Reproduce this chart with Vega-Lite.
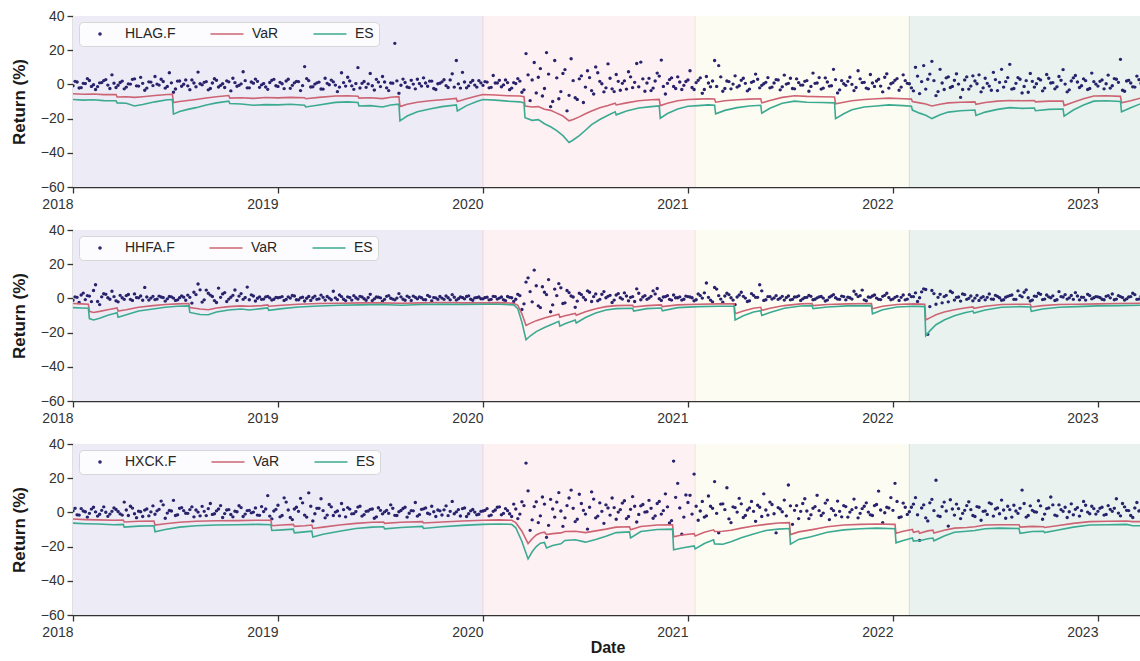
{
"$schema": "https://vega.github.io/schema/vega-lite/v6.json",
"padding": {"left": 10, "top": 9, "right": 0, "bottom": 0},
"background": "white",
"spacing": 12,
"resolve": {"scale": {"color": "independent", "shape": "independent"}},
"datasets": {
"bg": [{"s": 2018, "e": 2020, "k": "A"}, {"s": 2020, "e": 2021.035, "k": "B"}, {"s": 2021.035, "e": 2022.08, "k": "C"}, {"s": 2022.08, "e": 2023.215, "k": "D"}],
"edges": [{"x": 2020, "k": "B"}, {"x": 2021.035, "k": "C"}, {"x": 2022.08, "k": "D"}],
"l1": [
{"t":2018.00,"v":-5.5,"e":-8.8},{"t":2018.05,"v":-5.8,"e":-9.2},{"t":2018.10,"v":-5.6,"e":-9.0},{"t":2018.15,"v":-6.0,"e":-9.5},{"t":2018.21,"v":-5.9,"e":-9.6},{"t":2018.215,"v":-7.4,"e":-10.8},{"t":2018.26,"v":-7.2,"e":-11.0},{"t":2018.30,"v":-7.6,"e":-12.6},{"t":2018.34,"v":-7.2,"e":-11.8},{"t":2018.40,"v":-6.5,"e":-10.2},{"t":2018.46,"v":-5.9,"e":-9.0},{"t":2018.485,"v":-5.8,"e":-8.9},{"t":2018.49,"v":-10.6,"e":-17.4},{"t":2018.52,"v":-10.0,"e":-15.8},{"t":2018.56,"v":-9.4,"e":-14.6},{"t":2018.60,"v":-8.8,"e":-13.6},{"t":2018.65,"v":-8.0,"e":-12.0},{"t":2018.70,"v":-7.2,"e":-10.8},{"t":2018.76,"v":-6.5,"e":-9.8},{"t":2018.765,"v":-8.0,"e":-11.2},{"t":2018.82,"v":-7.8,"e":-11.5},{"t":2018.88,"v":-8.2,"e":-12.2},{"t":2018.94,"v":-7.7,"e":-11.8},{"t":2019.00,"v":-7.9,"e":-12.0},{"t":2019.06,"v":-7.6,"e":-11.6},{"t":2019.13,"v":-7.8,"e":-12.2},{"t":2019.135,"v":-8.4,"e":-13.2},{"t":2019.20,"v":-7.6,"e":-12.0},{"t":2019.28,"v":-6.8,"e":-10.5},{"t":2019.34,"v":-6.6,"e":-10.2},{"t":2019.39,"v":-6.9,"e":-10.6},{"t":2019.395,"v":-8.0,"e":-12.6},{"t":2019.45,"v":-7.8,"e":-12.4},{"t":2019.51,"v":-8.3,"e":-13.2},{"t":2019.55,"v":-7.5,"e":-12.0},{"t":2019.59,"v":-7.2,"e":-11.6},{"t":2019.595,"v":-13.0,"e":-21.3},{"t":2019.63,"v":-11.6,"e":-18.5},{"t":2019.68,"v":-10.4,"e":-16.0},{"t":2019.74,"v":-9.6,"e":-14.4},{"t":2019.80,"v":-9.0,"e":-13.0},{"t":2019.87,"v":-8.2,"e":-12.0},{"t":2019.875,"v":-10.0,"e":-15.5},{"t":2019.92,"v":-8.4,"e":-12.4},{"t":2019.97,"v":-6.8,"e":-10.0},{"t":2020.00,"v":-5.9,"e":-8.8},{"t":2020.06,"v":-6.2,"e":-9.2},{"t":2020.12,"v":-6.6,"e":-9.8},{"t":2020.18,"v":-6.8,"e":-10.2},{"t":2020.20,"v":-7.2,"e":-10.8},{"t":2020.205,"v":-12.6,"e":-19.5},{"t":2020.24,"v":-13.2,"e":-21.0},{"t":2020.27,"v":-13.0,"e":-20.6},{"t":2020.30,"v":-14.5,"e":-23.0},{"t":2020.33,"v":-15.2,"e":-24.8},{"t":2020.36,"v":-16.8,"e":-27.0},{"t":2020.39,"v":-18.5,"e":-30.0},{"t":2020.42,"v":-21.3,"e":-34.0},{"t":2020.44,"v":-20.5,"e":-32.5},{"t":2020.47,"v":-19.0,"e":-30.0},{"t":2020.50,"v":-17.2,"e":-26.8},{"t":2020.53,"v":-15.5,"e":-23.5},{"t":2020.57,"v":-13.6,"e":-20.5},{"t":2020.61,"v":-12.4,"e":-18.0},{"t":2020.645,"v":-11.0,"e":-16.0},{"t":2020.65,"v":-12.0,"e":-17.8},{"t":2020.70,"v":-10.8,"e":-15.5},{"t":2020.76,"v":-9.6,"e":-13.8},{"t":2020.82,"v":-9.0,"e":-13.0},{"t":2020.86,"v":-8.8,"e":-12.6},{"t":2020.865,"v":-12.4,"e":-19.8},{"t":2020.90,"v":-11.0,"e":-17.0},{"t":2020.95,"v":-9.6,"e":-14.4},{"t":2021.00,"v":-8.8,"e":-12.8},{"t":2021.05,"v":-8.6,"e":-12.4},{"t":2021.10,"v":-8.4,"e":-12.0},{"t":2021.13,"v":-8.5,"e":-12.2},{"t":2021.135,"v":-10.4,"e":-17.2},{"t":2021.18,"v":-9.6,"e":-15.2},{"t":2021.24,"v":-9.0,"e":-13.6},{"t":2021.30,"v":-8.6,"e":-12.6},{"t":2021.355,"v":-8.4,"e":-12.2},{"t":2021.36,"v":-10.8,"e":-16.8},{"t":2021.40,"v":-9.4,"e":-14.0},{"t":2021.46,"v":-7.6,"e":-11.0},{"t":2021.52,"v":-6.6,"e":-9.8},{"t":2021.58,"v":-7.0,"e":-10.4},{"t":2021.65,"v":-7.2,"e":-10.6},{"t":2021.715,"v":-7.4,"e":-10.8},{"t":2021.72,"v":-11.4,"e":-20.0},{"t":2021.76,"v":-10.4,"e":-17.2},{"t":2021.80,"v":-9.6,"e":-14.8},{"t":2021.86,"v":-8.8,"e":-13.2},{"t":2021.92,"v":-8.4,"e":-12.6},{"t":2021.98,"v":-8.0,"e":-12.0},{"t":2022.05,"v":-8.4,"e":-12.4},{"t":2022.09,"v":-8.6,"e":-12.8},{"t":2022.095,"v":-10.0,"e":-15.0},{"t":2022.13,"v":-10.8,"e":-16.8},{"t":2022.16,"v":-11.5,"e":-18.0},{"t":2022.19,"v":-12.6,"e":-20.0},{"t":2022.23,"v":-11.6,"e":-17.8},{"t":2022.27,"v":-10.8,"e":-16.2},{"t":2022.33,"v":-10.4,"e":-15.4},{"t":2022.40,"v":-10.2,"e":-15.0},{"t":2022.405,"v":-11.6,"e":-18.2},{"t":2022.45,"v":-10.6,"e":-16.2},{"t":2022.51,"v":-9.8,"e":-14.6},{"t":2022.57,"v":-9.4,"e":-13.6},{"t":2022.63,"v":-9.6,"e":-14.0},{"t":2022.69,"v":-9.4,"e":-13.8},{"t":2022.695,"v":-10.2,"e":-15.4},{"t":2022.76,"v":-9.8,"e":-14.6},{"t":2022.83,"v":-9.8,"e":-14.4},{"t":2022.835,"v":-12.4,"e":-18.6},{"t":2022.88,"v":-10.4,"e":-15.0},{"t":2022.93,"v":-8.4,"e":-12.0},{"t":2022.98,"v":-6.8,"e":-9.8},{"t":2023.04,"v":-6.6,"e":-9.6},{"t":2023.11,"v":-7.0,"e":-10.0},{"t":2023.115,"v":-10.8,"e":-16.0},{"t":2023.16,"v":-9.6,"e":-13.6},{"t":2023.215,"v":-7.8,"e":-11.0}
],
"l2": [
{"t":2018.00,"v":-3.0,"e":-5.4},{"t":2018.04,"v":-3.2,"e":-5.6},{"t":2018.075,"v":-3.4,"e":-5.8},{"t":2018.08,"v":-7.6,"e":-11.8},{"t":2018.10,"v":-8.2,"e":-12.6},{"t":2018.13,"v":-7.6,"e":-11.6},{"t":2018.17,"v":-6.6,"e":-9.8},{"t":2018.215,"v":-5.6,"e":-8.4},{"t":2018.22,"v":-7.4,"e":-11.0},{"t":2018.26,"v":-6.6,"e":-9.6},{"t":2018.32,"v":-5.2,"e":-7.4},{"t":2018.39,"v":-4.2,"e":-6.2},{"t":2018.45,"v":-3.6,"e":-5.2},{"t":2018.51,"v":-3.2,"e":-4.6},{"t":2018.565,"v":-3.0,"e":-4.4},{"t":2018.57,"v":-5.4,"e":-8.2},{"t":2018.62,"v":-6.2,"e":-9.4},{"t":2018.66,"v":-6.6,"e":-9.6},{"t":2018.70,"v":-5.6,"e":-8.0},{"t":2018.76,"v":-4.8,"e":-6.8},{"t":2018.82,"v":-4.4,"e":-6.2},{"t":2018.86,"v":-4.6,"e":-6.8},{"t":2018.92,"v":-4.2,"e":-6.0},{"t":2018.95,"v":-3.8,"e":-5.6},{"t":2018.955,"v":-4.6,"e":-7.0},{"t":2019.02,"v":-4.0,"e":-6.0},{"t":2019.10,"v":-3.4,"e":-5.0},{"t":2019.20,"v":-3.0,"e":-4.4},{"t":2019.30,"v":-2.8,"e":-4.0},{"t":2019.40,"v":-2.6,"e":-3.8},{"t":2019.50,"v":-2.6,"e":-3.6},{"t":2019.60,"v":-2.8,"e":-4.0},{"t":2019.70,"v":-2.6,"e":-3.6},{"t":2019.80,"v":-2.4,"e":-3.4},{"t":2019.90,"v":-2.6,"e":-3.6},{"t":2020.00,"v":-2.6,"e":-3.4},{"t":2020.08,"v":-2.5,"e":-3.4},{"t":2020.15,"v":-2.8,"e":-3.8},{"t":2020.17,"v":-4.0,"e":-6.0},{"t":2020.19,"v":-9.0,"e":-14.0},{"t":2020.21,"v":-15.8,"e":-24.2},{"t":2020.23,"v":-14.6,"e":-22.0},{"t":2020.26,"v":-13.0,"e":-19.4},{"t":2020.30,"v":-11.4,"e":-17.0},{"t":2020.34,"v":-10.2,"e":-15.0},{"t":2020.37,"v":-9.2,"e":-13.4},{"t":2020.375,"v":-11.0,"e":-16.2},{"t":2020.40,"v":-10.2,"e":-14.8},{"t":2020.45,"v":-8.8,"e":-12.6},{"t":2020.455,"v":-9.8,"e":-14.4},{"t":2020.50,"v":-7.8,"e":-11.2},{"t":2020.55,"v":-6.0,"e":-8.6},{"t":2020.60,"v":-4.8,"e":-6.8},{"t":2020.65,"v":-4.2,"e":-6.0},{"t":2020.73,"v":-4.0,"e":-5.8},{"t":2020.735,"v":-5.0,"e":-7.4},{"t":2020.80,"v":-4.2,"e":-6.0},{"t":2020.87,"v":-3.8,"e":-5.6},{"t":2020.875,"v":-4.8,"e":-7.2},{"t":2020.95,"v":-3.8,"e":-5.4},{"t":2021.05,"v":-3.4,"e":-4.8},{"t":2021.15,"v":-3.2,"e":-4.6},{"t":2021.225,"v":-3.2,"e":-4.6},{"t":2021.23,"v":-9.0,"e":-12.6},{"t":2021.27,"v":-7.4,"e":-10.2},{"t":2021.32,"v":-5.8,"e":-8.0},{"t":2021.355,"v":-5.2,"e":-7.2},{"t":2021.36,"v":-7.0,"e":-10.0},{"t":2021.40,"v":-5.8,"e":-8.2},{"t":2021.47,"v":-4.2,"e":-5.8},{"t":2021.55,"v":-3.2,"e":-4.4},{"t":2021.605,"v":-3.0,"e":-4.2},{"t":2021.61,"v":-4.2,"e":-6.0},{"t":2021.68,"v":-3.6,"e":-5.0},{"t":2021.78,"v":-3.2,"e":-4.4},{"t":2021.895,"v":-3.0,"e":-4.2},{"t":2021.90,"v":-6.0,"e":-9.0},{"t":2021.95,"v":-4.6,"e":-6.6},{"t":2022.02,"v":-3.6,"e":-5.0},{"t":2022.10,"v":-3.2,"e":-4.6},{"t":2022.155,"v":-3.4,"e":-4.8},{"t":2022.16,"v":-12.6,"e":-21.8},{"t":2022.18,"v":-11.4,"e":-19.0},{"t":2022.21,"v":-9.6,"e":-15.4},{"t":2022.25,"v":-8.0,"e":-12.6},{"t":2022.30,"v":-6.6,"e":-10.2},{"t":2022.35,"v":-5.6,"e":-8.4},{"t":2022.39,"v":-5.0,"e":-7.4},{"t":2022.395,"v":-5.8,"e":-8.6},{"t":2022.45,"v":-4.6,"e":-6.8},{"t":2022.53,"v":-3.6,"e":-5.2},{"t":2022.62,"v":-3.4,"e":-4.8},{"t":2022.67,"v":-3.4,"e":-5.0},{"t":2022.675,"v":-5.0,"e":-7.6},{"t":2022.73,"v":-4.2,"e":-6.2},{"t":2022.81,"v":-3.6,"e":-5.2},{"t":2022.90,"v":-3.4,"e":-4.8},{"t":2023.00,"v":-3.2,"e":-4.4},{"t":2023.10,"v":-3.0,"e":-4.2},{"t":2023.215,"v":-2.8,"e":-4.0}
],
"l3": [
{"t":2018.00,"v":-3.9,"e":-6.3},{"t":2018.06,"v":-4.2,"e":-6.6},{"t":2018.12,"v":-4.4,"e":-6.8},{"t":2018.20,"v":-4.6,"e":-7.2},{"t":2018.245,"v":-4.5,"e":-7.0},{"t":2018.25,"v":-5.6,"e":-8.6},{"t":2018.32,"v":-5.2,"e":-8.0},{"t":2018.395,"v":-5.0,"e":-7.8},{"t":2018.40,"v":-7.4,"e":-11.4},{"t":2018.45,"v":-6.6,"e":-10.0},{"t":2018.52,"v":-5.8,"e":-8.6},{"t":2018.60,"v":-5.2,"e":-7.8},{"t":2018.70,"v":-4.9,"e":-7.4},{"t":2018.80,"v":-4.8,"e":-7.2},{"t":2018.90,"v":-4.6,"e":-7.0},{"t":2018.965,"v":-4.6,"e":-7.2},{"t":2018.97,"v":-7.8,"e":-10.6},{"t":2019.02,"v":-7.4,"e":-10.2},{"t":2019.075,"v":-7.0,"e":-9.8},{"t":2019.08,"v":-8.2,"e":-12.0},{"t":2019.13,"v":-7.8,"e":-11.4},{"t":2019.165,"v":-7.4,"e":-11.0},{"t":2019.17,"v":-9.4,"e":-14.4},{"t":2019.22,"v":-8.6,"e":-12.8},{"t":2019.30,"v":-7.4,"e":-11.0},{"t":2019.38,"v":-6.4,"e":-9.4},{"t":2019.46,"v":-5.8,"e":-8.6},{"t":2019.515,"v":-5.6,"e":-8.4},{"t":2019.52,"v":-6.4,"e":-9.6},{"t":2019.60,"v":-5.8,"e":-8.8},{"t":2019.705,"v":-5.4,"e":-8.2},{"t":2019.71,"v":-6.2,"e":-9.4},{"t":2019.80,"v":-5.6,"e":-8.4},{"t":2019.90,"v":-5.0,"e":-7.6},{"t":2020.00,"v":-4.6,"e":-7.0},{"t":2020.08,"v":-4.4,"e":-6.8},{"t":2020.14,"v":-4.6,"e":-7.0},{"t":2020.16,"v":-6.0,"e":-9.0},{"t":2020.19,"v":-11.0,"e":-17.0},{"t":2020.22,"v":-18.2,"e":-27.2},{"t":2020.24,"v":-15.4,"e":-23.0},{"t":2020.26,"v":-13.2,"e":-20.0},{"t":2020.28,"v":-12.0,"e":-18.0},{"t":2020.30,"v":-11.6,"e":-17.6},{"t":2020.31,"v":-13.0,"e":-20.8},{"t":2020.34,"v":-12.4,"e":-19.4},{"t":2020.38,"v":-12.0,"e":-18.4},{"t":2020.40,"v":-11.2,"e":-16.4},{"t":2020.45,"v":-11.0,"e":-16.0},{"t":2020.50,"v":-11.8,"e":-17.4},{"t":2020.55,"v":-10.8,"e":-15.8},{"t":2020.60,"v":-9.8,"e":-14.0},{"t":2020.65,"v":-8.6,"e":-11.8},{"t":2020.715,"v":-8.4,"e":-11.4},{"t":2020.72,"v":-10.2,"e":-15.0},{"t":2020.77,"v":-8.2,"e":-11.2},{"t":2020.85,"v":-7.4,"e":-10.0},{"t":2020.925,"v":-7.2,"e":-9.8},{"t":2020.93,"v":-14.2,"e":-21.9},{"t":2020.97,"v":-13.2,"e":-20.8},{"t":2021.03,"v":-12.4,"e":-19.6},{"t":2021.035,"v":-13.8,"e":-21.3},{"t":2021.08,"v":-11.6,"e":-18.2},{"t":2021.125,"v":-10.2,"e":-16.0},{"t":2021.13,"v":-11.2,"e":-18.4},{"t":2021.17,"v":-11.0,"e":-18.6},{"t":2021.21,"v":-10.4,"e":-17.2},{"t":2021.26,"v":-9.2,"e":-14.8},{"t":2021.32,"v":-8.0,"e":-12.6},{"t":2021.38,"v":-7.0,"e":-10.6},{"t":2021.44,"v":-6.2,"e":-9.8},{"t":2021.495,"v":-6.0,"e":-9.4},{"t":2021.50,"v":-13.0,"e":-18.6},{"t":2021.54,"v":-11.4,"e":-15.8},{"t":2021.60,"v":-10.2,"e":-14.2},{"t":2021.68,"v":-8.4,"e":-11.6},{"t":2021.76,"v":-7.4,"e":-10.2},{"t":2021.84,"v":-7.0,"e":-9.6},{"t":2021.92,"v":-6.8,"e":-9.2},{"t":2022.01,"v":-7.0,"e":-9.6},{"t":2022.015,"v":-12.2,"e":-17.8},{"t":2022.05,"v":-11.0,"e":-16.4},{"t":2022.095,"v":-10.0,"e":-15.0},{"t":2022.10,"v":-11.6,"e":-16.8},{"t":2022.125,"v":-11.0,"e":-16.4},{"t":2022.13,"v":-12.2,"e":-16.6},{"t":2022.17,"v":-10.8,"e":-15.4},{"t":2022.195,"v":-10.4,"e":-15.0},{"t":2022.20,"v":-12.0,"e":-16.6},{"t":2022.25,"v":-10.4,"e":-13.8},{"t":2022.30,"v":-9.2,"e":-11.6},{"t":2022.36,"v":-8.8,"e":-11.0},{"t":2022.40,"v":-8.4,"e":-10.6},{"t":2022.45,"v":-7.4,"e":-9.6},{"t":2022.52,"v":-7.2,"e":-9.2},{"t":2022.615,"v":-7.2,"e":-9.4},{"t":2022.62,"v":-8.6,"e":-12.2},{"t":2022.68,"v":-8.2,"e":-11.2},{"t":2022.735,"v":-8.4,"e":-11.0},{"t":2022.74,"v":-8.8,"e":-11.8},{"t":2022.80,"v":-7.8,"e":-10.4},{"t":2022.88,"v":-6.4,"e":-8.6},{"t":2022.96,"v":-5.4,"e":-7.4},{"t":2023.05,"v":-5.2,"e":-7.2},{"t":2023.14,"v":-5.0,"e":-7.0},{"t":2023.17,"v":-5.4,"e":-7.8},{"t":2023.215,"v":-5.4,"e":-7.8}
],
"pts": [
{"t":2018.01,"a":1.8,"b":0.9,"c":2.4},{"t":2018.03,"a":-2.1,"b":-2.4,"c":-1.6},{"t":2018.05,"a":0.6,"b":3.1,"c":0.8},{"t":2018.07,"a":3.4,"b":1.6,"c":-2.8},{"t":2018.09,"a":-1.2,"b":-1.9,"c":1.9},{"t":2018.11,"a":-3.0,"b":8.0,"c":0.3},{"t":2018.13,"a":0.9,"b":-3.6,"c":-1.1},{"t":2018.15,"a":2.2,"b":2.7,"c":3.2},{"t":2018.17,"a":-0.4,"b":0.4,"c":-2.3},{"t":2018.19,"a":5.6,"b":4.2,"c":0.6},
{"t":2018.21,"a":-1.8,"b":-1.4,"c":1.7},{"t":2018.23,"a":1.1,"b":1.8,"c":-0.9},{"t":2018.25,"a":-2.6,"b":-0.6,"c":6.0},{"t":2018.27,"a":0.3,"b":2.3,"c":-1.8},{"t":2018.29,"a":2.9,"b":-1.2,"c":2.5},{"t":2018.31,"a":-0.9,"b":0.5,"c":-3.1},{"t":2018.33,"a":4.1,"b":1.4,"c":0.4},{"t":2018.35,"a":-3.4,"b":6.4,"c":1.3},{"t":2018.37,"a":1.5,"b":-1.0,"c":-2.0},{"t":2018.39,"a":-0.7,"b":1.2,"c":3.8},
{"t":2018.41,"a":0.2,"b":-0.4,"c":0.9},{"t":2018.43,"a":3.0,"b":0.8,"c":6.6},{"t":2018.45,"a":-2.2,"b":-1.6,"c":-3.4},{"t":2018.47,"a":6.8,"b":1.1,"c":1.1},{"t":2018.49,"a":-4.6,"b":0.2,"c":7.0},{"t":2018.51,"a":1.9,"b":-0.9,"c":-1.4},{"t":2018.53,"a":-1.1,"b":1.5,"c":2.8},{"t":2018.55,"a":2.6,"b":-1.1,"c":-0.5},{"t":2018.57,"a":-3.1,"b":0.6,"c":1.6},{"t":2018.59,"a":0.8,"b":3.6,"c":-2.6},
{"t":2018.61,"a":7.2,"b":8.4,"c":0.2},{"t":2018.63,"a":-0.3,"b":-2.2,"c":3.5},{"t":2018.65,"a":1.6,"b":4.8,"c":-1.9},{"t":2018.67,"a":-2.4,"b":1.9,"c":5.2},{"t":2018.69,"a":3.3,"b":-1.3,"c":-0.8},{"t":2018.71,"a":-1.5,"b":6.0,"c":2.0},{"t":2018.73,"a":0.4,"b":2.6,"c":-3.0},{"t":2018.75,"a":2.1,"b":-1.8,"c":1.4},{"t":2018.77,"a":-3.8,"b":0.7,"c":-1.2},{"t":2018.79,"a":1.0,"b":4.9,"c":0.7},
{"t":2018.81,"a":-0.6,"b":1.3,"c":3.9},{"t":2018.83,"a":7.4,"b":-0.6,"c":-2.4},{"t":2018.85,"a":-2.0,"b":6.6,"c":1.0},{"t":2018.87,"a":1.4,"b":2.1,"c":-0.3},{"t":2018.89,"a":3.1,"b":-1.5,"c":2.6},{"t":2018.91,"a":-1.7,"b":0.9,"c":-1.7},{"t":2018.93,"a":0.5,"b":-0.4,"c":0.5},{"t":2018.95,"a":-2.9,"b":1.2,"c":9.8},{"t":2018.97,"a":2.4,"b":-1.0,"c":-3.8},{"t":2018.99,"a":-0.8,"b":0.6,"c":1.8},
{"t":2019.01,"a":1.2,"b":0.6,"c":-2.6},{"t":2019.03,"a":-2.5,"b":-1.2,"c":8.5},{"t":2019.05,"a":3.0,"b":0.9,"c":1.4},{"t":2019.07,"a":-0.6,"b":1.7,"c":-4.2},{"t":2019.09,"a":1.8,"b":-0.8,"c":3.0},{"t":2019.11,"a":-3.6,"b":0.3,"c":8.2},{"t":2019.13,"a":10.4,"b":-1.5,"c":-1.6},{"t":2019.15,"a":2.2,"b":1.1,"c":11.4},{"t":2019.17,"a":-1.4,"b":0.4,"c":-5.0},{"t":2019.19,"a":0.9,"b":-0.6,"c":2.4},
{"t":2019.21,"a":-2.7,"b":1.9,"c":8.0},{"t":2019.23,"a":3.6,"b":-1.0,"c":-3.2},{"t":2019.25,"a":-0.2,"b":0.2,"c":4.6},{"t":2019.27,"a":1.5,"b":4.2,"c":-1.8},{"t":2019.29,"a":-4.2,"b":-0.7,"c":0.8},{"t":2019.31,"a":6.8,"b":1.0,"c":5.2},{"t":2019.33,"a":-1.0,"b":-1.3,"c":-2.6},{"t":2019.35,"a":2.0,"b":0.5,"c":1.9},{"t":2019.37,"a":-2.9,"b":1.6,"c":-0.7},{"t":2019.39,"a":9.8,"b":-0.4,"c":3.1},
{"t":2019.41,"a":0.6,"b":0.8,"c":-2.2},{"t":2019.43,"a":-1.7,"b":-1.1,"c":0.6},{"t":2019.45,"a":6.4,"b":2.4,"c":1.8},{"t":2019.47,"a":-3.3,"b":-0.3,"c":-3.4},{"t":2019.49,"a":1.3,"b":0.7,"c":2.7},{"t":2019.51,"a":4.6,"b":-1.6,"c":-0.9},{"t":2019.53,"a":-2.0,"b":1.2,"c":1.2},{"t":2019.55,"a":0.8,"b":0.1,"c":4.4},{"t":2019.57,"a":24.0,"b":-0.9,"c":-1.7},{"t":2019.59,"a":-5.2,"b":2.8,"c":0.4},
{"t":2019.61,"a":3.1,"b":-0.5,"c":2.3},{"t":2019.63,"a":-1.5,"b":1.3,"c":-2.8},{"t":2019.65,"a":2.4,"b":-1.2,"c":1.0},{"t":2019.67,"a":-2.6,"b":0.6,"c":5.8},{"t":2019.69,"a":0.5,"b":0.9,"c":-1.3},{"t":2019.71,"a":3.8,"b":-0.7,"c":2.1},{"t":2019.73,"a":-1.1,"b":1.8,"c":-0.5},{"t":2019.75,"a":1.9,"b":-1.4,"c":3.6},{"t":2019.77,"a":-3.0,"b":0.3,"c":-2.4},{"t":2019.79,"a":0.7,"b":1.1,"c":0.9},
{"t":2019.81,"a":2.7,"b":-0.6,"c":1.5},{"t":2019.83,"a":-1.8,"b":0.4,"c":-1.9},{"t":2019.85,"a":6.2,"b":2.2,"c":6.4},{"t":2019.87,"a":14.0,"b":-1.0,"c":0.3},{"t":2019.89,"a":-2.2,"b":0.8,"c":-2.1},{"t":2019.91,"a":1.4,"b":-0.3,"c":2.6},{"t":2019.93,"a":-0.9,"b":1.5,"c":-0.8},{"t":2019.95,"a":2.3,"b":-1.1,"c":1.7},{"t":2019.97,"a":-1.6,"b":0.5,"c":-1.4},{"t":2019.99,"a":0.9,"b":-0.2,"c":0.6},
{"t":2020.01,"a":1.6,"b":0.5,"c":1.2},{"t":2020.03,"a":-2.0,"b":-0.9,"c":-2.0},{"t":2020.05,"a":5.2,"b":1.2,"c":0.6},{"t":2020.07,"a":0.8,"b":-0.4,"c":3.0},{"t":2020.09,"a":-1.4,"b":0.8,"c":-1.4},{"t":2020.11,"a":2.6,"b":-1.3,"c":2.2},{"t":2020.13,"a":-3.1,"b":0.6,"c":-0.8},{"t":2020.15,"a":1.0,"b":-1.8,"c":4.8},{"t":2020.17,"a":3.4,"b":2.4,"c":-3.6},{"t":2020.19,"a":-4.6,"b":-6.5,"c":6.2},
{"t":2020.21,"a":18.0,"b":9.5,"c":28.8},{"t":2020.23,"a":-9.5,"b":4.0,"c":-10.5},{"t":2020.25,"a":12.8,"b":16.5,"c":3.4},{"t":2020.27,"a":4.2,"b":-4.4,"c":-6.0},{"t":2020.29,"a":-6.8,"b":6.8,"c":9.0},{"t":2020.31,"a":18.6,"b":2.2,"c":-14.6},{"t":2020.33,"a":-13.0,"b":-7.8,"c":7.6},{"t":2020.35,"a":14.0,"b":5.4,"c":-2.8},{"t":2020.37,"a":-8.4,"b":8.6,"c":11.6},{"t":2020.39,"a":6.4,"b":-3.0,"c":-8.2},
{"t":2020.41,"a":-15.5,"b":4.6,"c":4.0},{"t":2020.43,"a":15.0,"b":1.4,"c":13.0},{"t":2020.45,"a":-7.8,"b":-5.2,"c":-5.4},{"t":2020.47,"a":3.2,"b":3.0,"c":10.6},{"t":2020.49,"a":-10.6,"b":0.6,"c":1.2},{"t":2020.51,"a":8.0,"b":4.4,"c":-9.8},{"t":2020.53,"a":-3.6,"b":-1.8,"c":12.0},{"t":2020.55,"a":10.2,"b":2.6,"c":-3.2},{"t":2020.57,"a":1.8,"b":-0.6,"c":5.6},{"t":2020.59,"a":-4.4,"b":4.0,"c":-6.4},
{"t":2020.61,"a":12.0,"b":1.2,"c":2.6},{"t":2020.63,"a":-2.6,"b":-2.4,"c":8.4},{"t":2020.65,"a":5.8,"b":2.0,"c":-4.0},{"t":2020.67,"a":-3.4,"b":0.4,"c":1.6},{"t":2020.69,"a":2.1,"b":3.2,"c":6.8},{"t":2020.71,"a":7.4,"b":-1.4,"c":-2.4},{"t":2020.73,"a":-1.9,"b":1.0,"c":9.2},{"t":2020.75,"a":12.2,"b":5.6,"c":-5.6},{"t":2020.77,"a":13.0,"b":-0.8,"c":3.8},{"t":2020.79,"a":-4.0,"b":1.6,"c":0.2},
{"t":2020.81,"a":3.5,"b":0.2,"c":7.0},{"t":2020.83,"a":-2.2,"b":4.4,"c":-3.4},{"t":2020.85,"a":6.6,"b":5.8,"c":5.2},{"t":2020.87,"a":14.2,"b":-1.2,"c":-1.0},{"t":2020.89,"a":-5.6,"b":1.0,"c":10.8},{"t":2020.91,"a":2.8,"b":-0.6,"c":-6.2},{"t":2020.93,"a":-1.2,"b":2.0,"c":30.0},{"t":2020.95,"a":4.4,"b":0.4,"c":17.0},{"t":2020.97,"a":-3.0,"b":-1.0,"c":-12.8},{"t":2020.99,"a":1.7,"b":1.3,"c":10.2},
{"t":2021.01,"a":8.0,"b":0.8,"c":10.0},{"t":2021.03,"a":-3.0,"b":-1.4,"c":22.4},{"t":2021.05,"a":2.4,"b":2.6,"c":-4.6},{"t":2021.07,"a":-5.2,"b":0.2,"c":6.4},{"t":2021.09,"a":4.6,"b":9.0,"c":-2.0},{"t":2021.11,"a":-1.4,"b":-1.0,"c":3.6},{"t":2021.13,"a":14.0,"b":6.4,"c":18.0},{"t":2021.15,"a":11.0,"b":1.6,"c":-12.0},{"t":2021.17,"a":-4.0,"b":-2.2,"c":5.0},{"t":2021.19,"a":2.0,"b":3.0,"c":14.4},
{"t":2021.21,"a":-2.6,"b":0.4,"c":-6.0},{"t":2021.23,"a":5.0,"b":-3.6,"c":2.8},{"t":2021.25,"a":-0.8,"b":2.0,"c":8.2},{"t":2021.27,"a":3.6,"b":1.2,"c":-3.0},{"t":2021.29,"a":-3.8,"b":-1.8,"c":1.4},{"t":2021.31,"a":1.2,"b":2.8,"c":6.4},{"t":2021.33,"a":6.0,"b":0.6,"c":-5.2},{"t":2021.35,"a":-2.0,"b":8.0,"c":3.0},{"t":2021.37,"a":0.4,"b":-1.2,"c":10.8},{"t":2021.39,"a":4.0,"b":1.0,"c":-1.6},
{"t":2021.41,"a":-1.6,"b":-0.4,"c":4.6},{"t":2021.43,"a":2.8,"b":1.6,"c":-12.0},{"t":2021.45,"a":-3.2,"b":0.2,"c":2.0},{"t":2021.47,"a":5.4,"b":-1.0,"c":7.2},{"t":2021.49,"a":0.6,"b":1.4,"c":16.0},{"t":2021.51,"a":-2.4,"b":-0.6,"c":-7.0},{"t":2021.53,"a":3.2,"b":0.9,"c":4.0},{"t":2021.55,"a":-0.4,"b":-1.2,"c":0.6},{"t":2021.57,"a":1.8,"b":0.5,"c":8.0},{"t":2021.59,"a":-4.0,"b":1.8,"c":-3.6},
{"t":2021.61,"a":6.6,"b":-0.8,"c":2.4},{"t":2021.63,"a":0.8,"b":0.3,"c":10.0},{"t":2021.65,"a":-2.8,"b":1.1,"c":-1.8},{"t":2021.67,"a":3.8,"b":-1.5,"c":5.4},{"t":2021.69,"a":-1.0,"b":0.7,"c":-4.2},{"t":2021.71,"a":8.8,"b":2.2,"c":1.0},{"t":2021.73,"a":-5.0,"b":-0.4,"c":6.6},{"t":2021.75,"a":2.2,"b":1.3,"c":-2.6},{"t":2021.77,"a":-0.6,"b":-0.9,"c":3.4},{"t":2021.79,"a":4.2,"b":0.4,"c":0.2},
{"t":2021.81,"a":-3.6,"b":4.2,"c":7.8},{"t":2021.83,"a":8.0,"b":1.0,"c":-3.2},{"t":2021.85,"a":1.0,"b":4.8,"c":2.2},{"t":2021.87,"a":-2.2,"b":-1.4,"c":5.6},{"t":2021.89,"a":5.8,"b":0.6,"c":-1.4},{"t":2021.91,"a":-1.2,"b":2.0,"c":4.0},{"t":2021.93,"a":3.0,"b":-0.6,"c":12.4},{"t":2021.95,"a":-4.4,"b":1.2,"c":-6.0},{"t":2021.97,"a":6.2,"b":3.0,"c":3.0},{"t":2021.99,"a":0.4,"b":-0.8,"c":8.6},
{"t":2022.01,"a":2.4,"b":0.6,"c":17.0},{"t":2022.03,"a":-3.4,"b":-1.2,"c":-3.0},{"t":2022.05,"a":5.6,"b":2.0,"c":5.4},{"t":2022.07,"a":0.6,"b":-0.4,"c":-1.2},{"t":2022.09,"a":-2.0,"b":1.0,"c":3.0},{"t":2022.11,"a":10.0,"b":3.2,"c":8.6},{"t":2022.13,"a":-5.4,"b":0.4,"c":-16.4},{"t":2022.15,"a":11.0,"b":5.6,"c":4.4},{"t":2022.17,"a":3.0,"b":-21.0,"c":-5.0},{"t":2022.19,"a":13.5,"b":4.6,"c":7.6},
{"t":2022.21,"a":-6.6,"b":-3.4,"c":18.8},{"t":2022.23,"a":8.8,"b":2.4,"c":-2.4},{"t":2022.25,"a":-3.0,"b":1.0,"c":6.0},{"t":2022.27,"a":4.4,"b":-2.0,"c":-8.0},{"t":2022.29,"a":-1.2,"b":3.4,"c":2.0},{"t":2022.31,"a":6.2,"b":0.6,"c":4.8},{"t":2022.33,"a":-7.6,"b":-1.6,"c":-3.6},{"t":2022.35,"a":2.6,"b":2.2,"c":1.2},{"t":2022.37,"a":-2.8,"b":0.0,"c":6.2},{"t":2022.39,"a":5.0,"b":-1.4,"c":-1.8},
{"t":2022.41,"a":0.4,"b":1.8,"c":3.4},{"t":2022.43,"a":-4.4,"b":0.3,"c":-4.6},{"t":2022.45,"a":3.6,"b":-0.9,"c":0.8},{"t":2022.47,"a":-1.0,"b":2.6,"c":5.6},{"t":2022.49,"a":7.0,"b":-0.5,"c":-2.2},{"t":2022.51,"a":-3.6,"b":1.2,"c":2.6},{"t":2022.53,"a":8.8,"b":-1.1,"c":7.2},{"t":2022.55,"a":1.6,"b":0.7,"c":-3.4},{"t":2022.57,"a":11.7,"b":1.6,"c":1.6},{"t":2022.59,"a":-2.4,"b":-0.6,"c":4.2},
{"t":2022.61,"a":4.0,"b":4.4,"c":-0.6},{"t":2022.63,"a":-5.0,"b":0.9,"c":13.0},{"t":2022.65,"a":2.2,"b":5.0,"c":-2.8},{"t":2022.67,"a":6.4,"b":-1.5,"c":3.8},{"t":2022.69,"a":-1.6,"b":1.3,"c":0.4},{"t":2022.71,"a":3.4,"b":3.0,"c":6.8},{"t":2022.73,"a":-3.8,"b":-0.7,"c":-4.0},{"t":2022.75,"a":5.8,"b":2.0,"c":2.2},{"t":2022.77,"a":0.8,"b":0.4,"c":9.0},{"t":2022.79,"a":-2.6,"b":-1.2,"c":-1.6},
{"t":2022.81,"a":4.6,"b":4.0,"c":4.4},{"t":2022.83,"a":8.6,"b":0.8,"c":0.6},{"t":2022.85,"a":-4.4,"b":-0.4,"c":-3.0},{"t":2022.87,"a":2.0,"b":1.7,"c":5.0},{"t":2022.89,"a":5.2,"b":3.4,"c":1.8},{"t":2022.91,"a":-1.8,"b":-0.9,"c":-2.2},{"t":2022.93,"a":3.2,"b":0.6,"c":6.4},{"t":2022.95,"a":-3.0,"b":2.4,"c":0.2},{"t":2022.97,"a":6.6,"b":-0.3,"c":3.6},{"t":2022.99,"a":0.2,"b":1.0,"c":-1.0},
{"t":2023.01,"a":1.8,"b":0.5,"c":2.4},{"t":2023.03,"a":-2.6,"b":-0.8,"c":-1.6},{"t":2023.05,"a":5.4,"b":1.6,"c":4.0},{"t":2023.07,"a":-0.8,"b":2.6,"c":0.6},{"t":2023.09,"a":3.0,"b":-0.4,"c":8.0},{"t":2023.11,"a":14.6,"b":1.0,"c":-2.0},{"t":2023.13,"a":-4.0,"b":-1.0,"c":3.2},{"t":2023.15,"a":2.4,"b":0.8,"c":1.0},{"t":2023.17,"a":-1.4,"b":3.0,"c":-3.0},{"t":2023.19,"a":4.8,"b":-0.6,"c":5.8},{"t":2023.21,"a":0.6,"b":1.2,"c":1.4},
{"t":2018.00,"a":-0.8,"b":-1.1,"c":0.9},{"t":2018.02,"a":1.4,"b":0.6,"c":-1.4},{"t":2018.04,"a":-1.9,"b":2.0,"c":2.2},{"t":2018.06,"a":0.5,"b":-0.7,"c":0.4},{"t":2018.08,"a":2.3,"b":1.3,"c":-0.6},{"t":2018.10,"a":-0.2,"b":4.6,"c":3.0},{"t":2018.12,"a":-1.3,"b":-1.8,"c":-2.2},{"t":2018.14,"a":1.0,"b":0.9,"c":1.2},{"t":2018.16,"a":2.8,"b":2.4,"c":0.1},{"t":2018.18,"a":-2.4,"b":-0.5,"c":-1.0},
{"t":2018.20,"a":0.7,"b":1.0,"c":2.6},{"t":2018.22,"a":-0.5,"b":-2.0,"c":0.5},{"t":2018.24,"a":1.9,"b":0.4,"c":-1.6},{"t":2018.26,"a":-1.6,"b":1.6,"c":1.4},{"t":2018.28,"a":0.2,"b":-0.6,"c":3.6},{"t":2018.30,"a":3.2,"b":2.6,"c":-0.8},{"t":2018.32,"a":-1.0,"b":0.3,"c":0.7},{"t":2018.34,"a":0.6,"b":-1.1,"c":-2.4},{"t":2018.36,"a":-2.2,"b":0.8,"c":2.0},{"t":2018.38,"a":1.3,"b":0.2,"c":0.3},
{"t":2018.40,"a":4.6,"b":-0.7,"c":-1.1},{"t":2018.42,"a":-0.4,"b":1.3,"c":1.8},{"t":2018.44,"a":1.7,"b":0.5,"c":4.4},{"t":2018.46,"a":-1.2,"b":-0.3,"c":-0.4},{"t":2018.48,"a":0.9,"b":0.9,"c":0.8},{"t":2018.50,"a":-2.7,"b":-1.2,"c":-1.8},{"t":2018.52,"a":2.0,"b":0.4,"c":2.4},{"t":2018.54,"a":0.1,"b":0.7,"c":1.0},{"t":2018.56,"a":-0.9,"b":1.9,"c":-0.6},{"t":2018.58,"a":2.6,"b":-2.8,"c":3.2},
{"t":2018.60,"a":-1.4,"b":2.2,"c":1.4},{"t":2018.62,"a":0.4,"b":5.0,"c":-2.0},{"t":2018.64,"a":1.2,"b":-0.9,"c":0.6},{"t":2018.66,"a":-3.2,"b":3.0,"c":2.2},{"t":2018.68,"a":0.8,"b":1.1,"c":-1.2},{"t":2018.70,"a":2.4,"b":-2.4,"c":0.9},{"t":2018.72,"a":-0.6,"b":0.6,"c":4.0},{"t":2018.74,"a":-1.8,"b":3.4,"c":-0.7},{"t":2018.76,"a":1.5,"b":-0.4,"c":1.6},{"t":2018.78,"a":3.6,"b":1.8,"c":-2.6},
{"t":2018.80,"a":-1.1,"b":-1.2,"c":0.4},{"t":2018.82,"a":0.3,"b":2.8,"c":2.8},{"t":2018.84,"a":2.2,"b":0.5,"c":-1.0},{"t":2018.86,"a":-2.0,"b":-0.8,"c":1.2},{"t":2018.88,"a":0.7,"b":1.4,"c":0.2},{"t":2018.90,"a":1.8,"b":0.1,"c":-1.6},{"t":2018.92,"a":-0.3,"b":-0.6,"c":3.4},{"t":2018.94,"a":-1.5,"b":0.9,"c":2.0},{"t":2018.96,"a":1.1,"b":0.3,"c":-2.2},{"t":2018.98,"a":2.9,"b":-0.5,"c":0.8},
{"t":2019.00,"a":-1.2,"b":0.4,"c":4.2},{"t":2019.02,"a":0.4,"b":1.0,"c":-1.8},{"t":2019.04,"a":2.0,"b":-0.6,"c":6.0},{"t":2019.06,"a":-2.3,"b":0.2,"c":-3.0},{"t":2019.08,"a":0.9,"b":1.4,"c":2.0},{"t":2019.10,"a":1.6,"b":-0.9,"c":0.6},{"t":2019.12,"a":-0.7,"b":0.7,"c":5.6},{"t":2019.14,"a":3.4,"b":0.1,"c":-2.8},{"t":2019.16,"a":-1.5,"b":-1.2,"c":3.6},{"t":2019.18,"a":0.2,"b":1.3,"c":-0.8},
{"t":2019.20,"a":1.3,"b":-0.3,"c":2.4},{"t":2019.22,"a":-2.8,"b":0.6,"c":1.0},{"t":2019.24,"a":0.6,"b":1.1,"c":-1.6},{"t":2019.26,"a":2.5,"b":-0.8,"c":3.2},{"t":2019.28,"a":-0.4,"b":0.3,"c":0.2},{"t":2019.30,"a":-1.6,"b":2.0,"c":-2.0},{"t":2019.32,"a":1.0,"b":-0.5,"c":1.6},{"t":2019.34,"a":4.2,"b":0.9,"c":2.8},{"t":2019.36,"a":-0.9,"b":-1.0,"c":-0.9},{"t":2019.38,"a":0.5,"b":0.4,"c":0.5},
{"t":2019.40,"a":-2.1,"b":1.2,"c":3.6},{"t":2019.42,"a":1.7,"b":-0.2,"c":-1.3},{"t":2019.44,"a":0.3,"b":0.5,"c":0.8},{"t":2019.46,"a":-0.8,"b":-1.3,"c":2.0},{"t":2019.48,"a":2.9,"b":0.8,"c":-2.6},{"t":2019.50,"a":-1.3,"b":0.3,"c":1.2},{"t":2019.52,"a":1.4,"b":-0.6,"c":0.3},{"t":2019.54,"a":-3.6,"b":1.6,"c":-0.6},{"t":2019.56,"a":0.7,"b":-0.4,"c":2.4},{"t":2019.58,"a":2.1,"b":0.2,"c":-1.8},
{"t":2019.60,"a":-0.5,"b":0.9,"c":1.1},{"t":2019.62,"a":1.1,"b":-1.1,"c":3.0},{"t":2019.64,"a":-1.9,"b":0.6,"c":-0.5},{"t":2019.66,"a":0.2,"b":1.3,"c":0.9},{"t":2019.68,"a":3.0,"b":-0.3,"c":-2.2},{"t":2019.70,"a":-1.0,"b":0.4,"c":1.8},{"t":2019.72,"a":0.8,"b":-0.8,"c":2.6},{"t":2019.74,"a":1.9,"b":1.0,"c":-1.0},{"t":2019.76,"a":-2.4,"b":0.5,"c":0.4},{"t":2019.78,"a":0.4,"b":-0.6,"c":1.4},
{"t":2019.80,"a":1.5,"b":0.2,"c":-1.5},{"t":2019.82,"a":-0.7,"b":1.4,"c":3.8},{"t":2019.84,"a":2.6,"b":-0.9,"c":0.6},{"t":2019.86,"a":-1.6,"b":0.7,"c":-0.8},{"t":2019.88,"a":0.3,"b":-0.2,"c":1.6},{"t":2019.90,"a":7.0,"b":0.5,"c":2.2},{"t":2019.92,"a":-2.0,"b":1.1,"c":-2.4},{"t":2019.94,"a":1.2,"b":-0.5,"c":0.9},{"t":2019.96,"a":-0.4,"b":0.3,"c":0.2},{"t":2019.98,"a":2.2,"b":0.8,"c":-1.1},
{"t":2020.00,"a":-0.6,"b":-0.3,"c":0.8},{"t":2020.02,"a":1.3,"b":0.7,"c":2.2},{"t":2020.04,"a":-1.7,"b":-0.6,"c":-1.6},{"t":2020.06,"a":0.8,"b":1.0,"c":1.4},{"t":2020.08,"a":2.4,"b":0.2,"c":3.2},{"t":2020.10,"a":-0.3,"b":-0.8,"c":-0.6},{"t":2020.12,"a":1.0,"b":1.1,"c":1.0},{"t":2020.14,"a":-2.2,"b":0.4,"c":-2.4},{"t":2020.16,"a":0.5,"b":-0.5,"c":2.0},{"t":2020.18,"a":1.9,"b":1.6,"c":-1.0},
{"t":2020.20,"a":-3.2,"b":-3.2,"c":4.0},{"t":2020.22,"a":5.6,"b":12.0,"c":12.6},{"t":2020.24,"a":2.6,"b":-2.0,"c":-4.4},{"t":2020.26,"a":-5.0,"b":7.4,"c":6.2},{"t":2020.28,"a":9.2,"b":-5.4,"c":-2.0},{"t":2020.30,"a":-2.4,"b":3.6,"c":4.8},{"t":2020.32,"a":6.0,"b":11.0,"c":-7.6},{"t":2020.34,"a":-10.0,"b":-3.8,"c":2.0},{"t":2020.36,"a":3.8,"b":1.6,"c":6.0},{"t":2020.38,"a":-4.2,"b":6.2,"c":0.8},
{"t":2020.40,"a":8.6,"b":-2.6,"c":-3.2},{"t":2020.42,"a":-6.4,"b":3.4,"c":8.4},{"t":2020.44,"a":2.2,"b":0.8,"c":2.4},{"t":2020.46,"a":-8.8,"b":-1.6,"c":-4.0},{"t":2020.48,"a":5.0,"b":2.2,"c":5.2},{"t":2020.50,"a":-1.6,"b":-0.8,"c":-1.0},{"t":2020.52,"a":4.0,"b":3.6,"c":3.0},{"t":2020.54,"a":-5.6,"b":1.0,"c":7.8},{"t":2020.56,"a":6.8,"b":-1.4,"c":-2.2},{"t":2020.58,"a":0.4,"b":2.4,"c":0.6},
{"t":2020.60,"a":-2.0,"b":0.4,"c":4.4},{"t":2020.62,"a":3.6,"b":1.8,"c":-1.6},{"t":2020.64,"a":-4.2,"b":-1.0,"c":2.8},{"t":2020.66,"a":1.8,"b":2.8,"c":0.2},{"t":2020.68,"a":0.6,"b":-0.4,"c":5.4},{"t":2020.70,"a":-2.8,"b":1.4,"c":-3.6},{"t":2020.72,"a":4.4,"b":0.6,"c":1.8},{"t":2020.74,"a":1.2,"b":-1.8,"c":3.6},{"t":2020.76,"a":-1.4,"b":3.0,"c":-1.2},{"t":2020.78,"a":3.2,"b":0.8,"c":4.6},
{"t":2020.80,"a":0.8,"b":-0.6,"c":0.4},{"t":2020.82,"a":-3.6,"b":1.2,"c":2.4},{"t":2020.84,"a":2.0,"b":2.6,"c":-2.0},{"t":2020.86,"a":4.8,"b":-0.2,"c":6.4},{"t":2020.88,"a":-1.2,"b":0.8,"c":1.0},{"t":2020.90,"a":0.6,"b":1.6,"c":3.2},{"t":2020.92,"a":3.8,"b":-1.0,"c":-4.8},{"t":2020.94,"a":-2.4,"b":0.4,"c":8.8},{"t":2020.96,"a":1.4,"b":0.9,"c":2.6},{"t":2020.98,"a":-0.6,"b":-0.5,"c":-2.8},
{"t":2021.00,"a":2.6,"b":1.0,"c":5.8},{"t":2021.02,"a":-1.8,"b":0.4,"c":-1.0},{"t":2021.04,"a":1.0,"b":-0.8,"c":3.6},{"t":2021.06,"a":3.8,"b":1.6,"c":0.8},{"t":2021.08,"a":-3.0,"b":3.2,"c":-2.8},{"t":2021.10,"a":0.8,"b":0.6,"c":9.6},{"t":2021.12,"a":2.0,"b":-2.0,"c":2.4},{"t":2021.14,"a":-1.2,"b":5.4,"c":-0.6},{"t":2021.16,"a":4.4,"b":-0.4,"c":4.8},{"t":2021.18,"a":-2.4,"b":1.4,"c":1.6},
{"t":2021.20,"a":1.6,"b":2.2,"c":-3.8},{"t":2021.22,"a":0.2,"b":-1.0,"c":3.2},{"t":2021.24,"a":-1.6,"b":0.8,"c":0.2},{"t":2021.26,"a":2.4,"b":3.6,"c":5.0},{"t":2021.28,"a":0.6,"b":0.2,"c":-1.8},{"t":2021.30,"a":-2.8,"b":-1.4,"c":2.6},{"t":2021.32,"a":1.8,"b":1.8,"c":0.6},{"t":2021.34,"a":3.0,"b":0.6,"c":4.2},{"t":2021.36,"a":-0.6,"b":4.4,"c":-2.4},{"t":2021.38,"a":1.2,"b":-0.8,"c":1.4},
{"t":2021.40,"a":-2.0,"b":1.0,"c":6.0},{"t":2021.42,"a":0.8,"b":0.3,"c":-0.8},{"t":2021.44,"a":2.6,"b":-0.6,"c":2.8},{"t":2021.46,"a":-1.4,"b":1.2,"c":0.4},{"t":2021.48,"a":0.2,"b":0.5,"c":-2.0},{"t":2021.50,"a":3.6,"b":-0.9,"c":3.8},{"t":2021.52,"a":-2.6,"b":0.8,"c":1.2},{"t":2021.54,"a":1.0,"b":1.5,"c":-3.6},{"t":2021.56,"a":-0.4,"b":-0.3,"c":5.2},{"t":2021.58,"a":2.2,"b":0.6,"c":0.8},
{"t":2021.60,"a":-1.2,"b":1.2,"c":-1.4},{"t":2021.62,"a":0.6,"b":-0.5,"c":3.4},{"t":2021.64,"a":4.0,"b":0.9,"c":1.0},{"t":2021.66,"a":-2.2,"b":0.2,"c":-0.4},{"t":2021.68,"a":1.4,"b":-1.0,"c":7.2},{"t":2021.70,"a":-0.8,"b":1.4,"c":2.2},{"t":2021.72,"a":2.8,"b":0.4,"c":-1.6},{"t":2021.74,"a":-3.2,"b":-0.6,"c":0.6},{"t":2021.76,"a":0.4,"b":1.0,"c":4.0},{"t":2021.78,"a":1.8,"b":0.7,"c":-2.8},
{"t":2021.80,"a":0.0,"b":-0.4,"c":1.6},{"t":2021.82,"a":-1.8,"b":2.4,"c":2.8},{"t":2021.84,"a":3.2,"b":1.6,"c":-0.6},{"t":2021.86,"a":1.2,"b":-0.9,"c":3.6},{"t":2021.88,"a":-2.6,"b":0.8,"c":0.2},{"t":2021.90,"a":0.8,"b":1.4,"c":-1.8},{"t":2021.92,"a":2.0,"b":0.2,"c":4.6},{"t":2021.94,"a":-1.0,"b":-0.7,"c":1.4},{"t":2021.96,"a":4.2,"b":1.8,"c":-0.2},{"t":2021.98,"a":-2.2,"b":0.5,"c":2.6},
{"t":2022.00,"a":1.0,"b":-0.4,"c":1.2},{"t":2022.02,"a":3.4,"b":1.2,"c":6.4},{"t":2022.04,"a":-1.6,"b":0.6,"c":-2.6},{"t":2022.06,"a":2.2,"b":-0.9,"c":3.0},{"t":2022.08,"a":0.4,"b":2.2,"c":0.4},{"t":2022.10,"a":-3.8,"b":1.0,"c":4.8},{"t":2022.12,"a":4.8,"b":-1.8,"c":-1.4},{"t":2022.14,"a":1.6,"b":3.8,"c":2.6},{"t":2022.16,"a":-2.8,"b":5.2,"c":-3.2},{"t":2022.18,"a":6.0,"b":-4.8,"c":5.6},
{"t":2022.20,"a":2.2,"b":2.8,"c":1.0},{"t":2022.22,"a":-4.2,"b":0.6,"c":-2.0},{"t":2022.24,"a":0.8,"b":-2.6,"c":3.4},{"t":2022.26,"a":3.8,"b":1.8,"c":0.8},{"t":2022.28,"a":-1.8,"b":4.2,"c":7.4},{"t":2022.30,"a":2.4,"b":-1.0,"c":-1.6},{"t":2022.32,"a":0.2,"b":0.8,"c":2.2},{"t":2022.34,"a":-3.0,"b":2.6,"c":-0.6},{"t":2022.36,"a":4.4,"b":-0.6,"c":4.0},{"t":2022.38,"a":-1.0,"b":1.4,"c":1.6},
{"t":2022.40,"a":2.0,"b":0.2,"c":-2.4},{"t":2022.42,"a":5.6,"b":-1.2,"c":3.0},{"t":2022.44,"a":-2.0,"b":1.0,"c":0.6},{"t":2022.46,"a":0.6,"b":0.6,"c":-1.2},{"t":2022.48,"a":-3.4,"b":-0.4,"c":5.0},{"t":2022.50,"a":2.8,"b":1.8,"c":2.0},{"t":2022.52,"a":1.2,"b":0.4,"c":-0.8},{"t":2022.54,"a":-1.6,"b":-0.8,"c":1.4},{"t":2022.56,"a":4.0,"b":1.2,"c":3.6},{"t":2022.58,"a":-2.8,"b":2.0,"c":-2.8},
{"t":2022.60,"a":0.6,"b":-0.6,"c":0.8},{"t":2022.62,"a":3.0,"b":1.6,"c":2.4},{"t":2022.64,"a":-1.2,"b":3.6,"c":5.2},{"t":2022.66,"a":-4.6,"b":0.4,"c":-1.8},{"t":2022.68,"a":1.8,"b":-1.0,"c":1.2},{"t":2022.70,"a":0.4,"b":1.2,"c":0.2},{"t":2022.72,"a":2.6,"b":2.4,"c":3.8},{"t":2022.74,"a":-2.2,"b":-0.4,"c":-1.0},{"t":2022.76,"a":3.6,"b":0.9,"c":2.6},{"t":2022.78,"a":1.0,"b":1.5,"c":4.4},
{"t":2022.80,"a":-1.4,"b":-0.8,"c":-2.0},{"t":2022.82,"a":2.4,"b":1.0,"c":1.6},{"t":2022.84,"a":0.2,"b":2.2,"c":3.0},{"t":2022.86,"a":-3.2,"b":0.3,"c":0.4},{"t":2022.88,"a":3.8,"b":-0.6,"c":-1.4},{"t":2022.90,"a":1.4,"b":1.4,"c":2.8},{"t":2022.92,"a":-0.8,"b":0.7,"c":1.0},{"t":2022.94,"a":2.2,"b":-1.0,"c":4.2},{"t":2022.96,"a":-2.4,"b":1.6,"c":-0.8},{"t":2022.98,"a":1.6,"b":0.4,"c":2.2},
{"t":2023.00,"a":-1.0,"b":0.9,"c":0.6},{"t":2023.02,"a":2.6,"b":-0.5,"c":3.0},{"t":2023.04,"a":0.4,"b":1.2,"c":-1.2},{"t":2023.06,"a":-2.2,"b":0.3,"c":1.8},{"t":2023.08,"a":3.4,"b":-0.8,"c":2.4},{"t":2023.10,"a":1.2,"b":1.6,"c":-0.4},{"t":2023.12,"a":-3.4,"b":0.5,"c":5.2},{"t":2023.14,"a":2.0,"b":-0.3,"c":1.2},{"t":2023.16,"a":0.8,"b":1.0,"c":-1.8},{"t":2023.18,"a":-1.6,"b":2.2,"c":2.6},{"t":2023.20,"a":2.8,"b":-0.4,"c":0.8}
]
},
"vconcat": [
{
"width": 1069, "height": 171,
"layer": [
{"data": {"name": "bg"}, "mark": {"type": "rect"},
 "encoding": {
  "x": {"field": "s", "type": "quantitative", "scale": {"domain": [2018, 2023.215], "nice": false, "zero": false}, "axis": {"values": [2018, 2019, 2020, 2021, 2022, 2023], "format": "d", "title": null, "labelAlign": "right", "labelFlush": false, "labelPadding": 4}},
  "x2": {"field": "e"},
  "fill": {"field": "k", "type": "nominal", "scale": {"domain": ["A", "B", "C", "D"], "range": ["#ECEBF6", "#FDF1F3", "#FDFCF3", "#E9F2EF"]}, "legend": null}
 }},
{"data": {"name": "edges"}, "mark": {"type": "rule", "strokeWidth": 1},
 "encoding": {"x": {"field": "x", "type": "quantitative"}, "stroke": {"field": "k", "type": "nominal", "scale": {"domain": ["B", "C", "D"], "range": ["#F0D4D9", "#EEE6D8", "#D0DDD7"]}, "legend": null}}},
{"data": {"name": "pts"}, "mark": {"type": "point", "filled": false, "size": 3, "strokeWidth": 1.6, "opacity": 1, "clip": true},
 "encoding": {
  "x": {"field": "t", "type": "quantitative"},
  "y": {"field": "a", "type": "quantitative", "scale": {"domain": [-60, 40], "nice": false, "zero": false}, "axis": {"values": [-60, -40, -20, 0, 20, 40], "title": "Return (%)", "titlePadding": 12, "labelOverlap": false, "labelPadding": 3}},
  "color": {"datum": "HLAG.F", "type": "nominal", "scale": {"domain": ["HLAG.F", "VaR", "ES"], "range": ["#27226b", "#cd6473", "#3caa91"]},
   "legend": {"orient": "top-left", "offset": 6, "direction": "horizontal", "title": null, "fillColor": "rgba(255,255,255,0.85)", "strokeColor": "#d6d6d6", "cornerRadius": 4, "padding": 5, "symbolSize": 4, "symbolStrokeWidth": 1.6, "symbolOffset": 9, "labelOffset": 18, "columnPadding": 31, "labelFontSize": 14, "labelColor": "#262626"}},
  "shape": {"datum": "HLAG.F", "type": "nominal", "scale": {"domain": ["HLAG.F", "VaR", "ES"], "range": ["circle", "M-16.5,0H16.5", "M-16.5,0H16.5"]},
   "legend": {"orient": "top-left", "offset": 6, "direction": "horizontal", "title": null, "fillColor": "rgba(255,255,255,0.85)", "strokeColor": "#d6d6d6", "cornerRadius": 4, "padding": 5, "symbolSize": 4, "symbolStrokeWidth": 1.6, "symbolOffset": 9, "labelOffset": 18, "columnPadding": 31, "labelFontSize": 14, "labelColor": "#262626"}}
 }},
{"data": {"name": "l1"}, "mark": {"type": "line", "strokeWidth": 1.6, "clip": true},
 "encoding": {"x": {"field": "t", "type": "quantitative"}, "y": {"field": "v", "type": "quantitative", "axis": {"values": [-60, -40, -20, 0, 20, 40], "title": "Return (%)", "titlePadding": 12, "labelOverlap": false, "labelPadding": 3}}, "color": {"datum": "VaR", "type": "nominal"}}},
{"data": {"name": "l1"}, "mark": {"type": "line", "strokeWidth": 1.6, "clip": true},
 "encoding": {"x": {"field": "t", "type": "quantitative"}, "y": {"field": "e", "type": "quantitative", "axis": {"values": [-60, -40, -20, 0, 20, 40], "title": "Return (%)", "titlePadding": 12, "labelOverlap": false, "labelPadding": 3}}, "color": {"datum": "ES", "type": "nominal"}}}
]
},
{
"width": 1069, "height": 171,
"layer": [
{"data": {"name": "bg"}, "mark": {"type": "rect"},
 "encoding": {
  "x": {"field": "s", "type": "quantitative", "scale": {"domain": [2018, 2023.215], "nice": false, "zero": false}, "axis": {"values": [2018, 2019, 2020, 2021, 2022, 2023], "format": "d", "title": null, "labelAlign": "right", "labelFlush": false, "labelPadding": 4}},
  "x2": {"field": "e"},
  "fill": {"field": "k", "type": "nominal", "scale": {"domain": ["A", "B", "C", "D"], "range": ["#ECEBF6", "#FDF1F3", "#FDFCF3", "#E9F2EF"]}, "legend": null}
 }},
{"data": {"name": "edges"}, "mark": {"type": "rule", "strokeWidth": 1},
 "encoding": {"x": {"field": "x", "type": "quantitative"}, "stroke": {"field": "k", "type": "nominal", "scale": {"domain": ["B", "C", "D"], "range": ["#F0D4D9", "#EEE6D8", "#D0DDD7"]}, "legend": null}}},
{"data": {"name": "pts"}, "mark": {"type": "point", "filled": false, "size": 3, "strokeWidth": 1.6, "opacity": 1, "clip": true},
 "encoding": {
  "x": {"field": "t", "type": "quantitative"},
  "y": {"field": "b", "type": "quantitative", "scale": {"domain": [-60, 40], "nice": false, "zero": false}, "axis": {"values": [-60, -40, -20, 0, 20, 40], "title": "Return (%)", "titlePadding": 12, "labelOverlap": false, "labelPadding": 3}},
  "color": {"datum": "HHFA.F", "type": "nominal", "scale": {"domain": ["HHFA.F", "VaR", "ES"], "range": ["#27226b", "#cd6473", "#3caa91"]},
   "legend": {"orient": "top-left", "offset": 6, "direction": "horizontal", "title": null, "fillColor": "rgba(255,255,255,0.85)", "strokeColor": "#d6d6d6", "cornerRadius": 4, "padding": 5, "symbolSize": 4, "symbolStrokeWidth": 1.6, "symbolOffset": 9, "labelOffset": 18, "columnPadding": 31, "labelFontSize": 14, "labelColor": "#262626"}},
  "shape": {"datum": "HHFA.F", "type": "nominal", "scale": {"domain": ["HHFA.F", "VaR", "ES"], "range": ["circle", "M-16.5,0H16.5", "M-16.5,0H16.5"]},
   "legend": {"orient": "top-left", "offset": 6, "direction": "horizontal", "title": null, "fillColor": "rgba(255,255,255,0.85)", "strokeColor": "#d6d6d6", "cornerRadius": 4, "padding": 5, "symbolSize": 4, "symbolStrokeWidth": 1.6, "symbolOffset": 9, "labelOffset": 18, "columnPadding": 31, "labelFontSize": 14, "labelColor": "#262626"}}
 }},
{"data": {"name": "l2"}, "mark": {"type": "line", "strokeWidth": 1.6, "clip": true},
 "encoding": {"x": {"field": "t", "type": "quantitative"}, "y": {"field": "v", "type": "quantitative", "axis": {"values": [-60, -40, -20, 0, 20, 40], "title": "Return (%)", "titlePadding": 12, "labelOverlap": false, "labelPadding": 3}}, "color": {"datum": "VaR", "type": "nominal"}}},
{"data": {"name": "l2"}, "mark": {"type": "line", "strokeWidth": 1.6, "clip": true},
 "encoding": {"x": {"field": "t", "type": "quantitative"}, "y": {"field": "e", "type": "quantitative", "axis": {"values": [-60, -40, -20, 0, 20, 40], "title": "Return (%)", "titlePadding": 12, "labelOverlap": false, "labelPadding": 3}}, "color": {"datum": "ES", "type": "nominal"}}}
]
},
{
"width": 1069, "height": 171,
"layer": [
{"data": {"name": "bg"}, "mark": {"type": "rect"},
 "encoding": {
  "x": {"field": "s", "type": "quantitative", "scale": {"domain": [2018, 2023.215], "nice": false, "zero": false}, "axis": {"values": [2018, 2019, 2020, 2021, 2022, 2023], "format": "d", "title": "Date", "labelAlign": "right", "labelFlush": false, "labelPadding": 4, "titlePadding": 0, "titleFontSize": 16}},
  "x2": {"field": "e"},
  "fill": {"field": "k", "type": "nominal", "scale": {"domain": ["A", "B", "C", "D"], "range": ["#ECEBF6", "#FDF1F3", "#FDFCF3", "#E9F2EF"]}, "legend": null}
 }},
{"data": {"name": "edges"}, "mark": {"type": "rule", "strokeWidth": 1},
 "encoding": {"x": {"field": "x", "type": "quantitative"}, "stroke": {"field": "k", "type": "nominal", "scale": {"domain": ["B", "C", "D"], "range": ["#F0D4D9", "#EEE6D8", "#D0DDD7"]}, "legend": null}}},
{"data": {"name": "pts"}, "mark": {"type": "point", "filled": false, "size": 3, "strokeWidth": 1.6, "opacity": 1, "clip": true},
 "encoding": {
  "x": {"field": "t", "type": "quantitative"},
  "y": {"field": "c", "type": "quantitative", "scale": {"domain": [-60, 40], "nice": false, "zero": false}, "axis": {"values": [-60, -40, -20, 0, 20, 40], "title": "Return (%)", "titlePadding": 12, "labelOverlap": false, "labelPadding": 3}},
  "color": {"datum": "HXCK.F", "type": "nominal", "scale": {"domain": ["HXCK.F", "VaR", "ES"], "range": ["#27226b", "#cd6473", "#3caa91"]},
   "legend": {"orient": "top-left", "offset": 6, "direction": "horizontal", "title": null, "fillColor": "rgba(255,255,255,0.85)", "strokeColor": "#d6d6d6", "cornerRadius": 4, "padding": 5, "symbolSize": 4, "symbolStrokeWidth": 1.6, "symbolOffset": 9, "labelOffset": 18, "columnPadding": 31, "labelFontSize": 14, "labelColor": "#262626"}},
  "shape": {"datum": "HXCK.F", "type": "nominal", "scale": {"domain": ["HXCK.F", "VaR", "ES"], "range": ["circle", "M-16.5,0H16.5", "M-16.5,0H16.5"]},
   "legend": {"orient": "top-left", "offset": 6, "direction": "horizontal", "title": null, "fillColor": "rgba(255,255,255,0.85)", "strokeColor": "#d6d6d6", "cornerRadius": 4, "padding": 5, "symbolSize": 4, "symbolStrokeWidth": 1.6, "symbolOffset": 9, "labelOffset": 18, "columnPadding": 31, "labelFontSize": 14, "labelColor": "#262626"}}
 }},
{"data": {"name": "l3"}, "mark": {"type": "line", "strokeWidth": 1.6, "clip": true},
 "encoding": {"x": {"field": "t", "type": "quantitative"}, "y": {"field": "v", "type": "quantitative", "axis": {"values": [-60, -40, -20, 0, 20, 40], "title": "Return (%)", "titlePadding": 12, "labelOverlap": false, "labelPadding": 3}}, "color": {"datum": "VaR", "type": "nominal"}}},
{"data": {"name": "l3"}, "mark": {"type": "line", "strokeWidth": 1.6, "clip": true},
 "encoding": {"x": {"field": "t", "type": "quantitative"}, "y": {"field": "e", "type": "quantitative", "axis": {"values": [-60, -40, -20, 0, 20, 40], "title": "Return (%)", "titlePadding": 12, "labelOverlap": false, "labelPadding": 3}}, "color": {"datum": "ES", "type": "nominal"}}}
]
}
],
"config": {
 "font": "Liberation Sans",
 "view": {"stroke": null},
 "axis": {"grid": false, "zindex": 1, "labelOverlap": false, "domainColor": "#333333", "domainWidth": 1.3, "tickColor": "#333333", "tickWidth": 1.3, "tickSize": 6, "labelFontSize": 14, "labelColor": "#333333", "labelPadding": 2, "titleFontSize": 17, "titleFontWeight": "bold", "titleColor": "#1a1a1a"},
 "axisY": {"labelOverlap": false},
 "legend": {"labelFont": "Liberation Sans"}
}
}
